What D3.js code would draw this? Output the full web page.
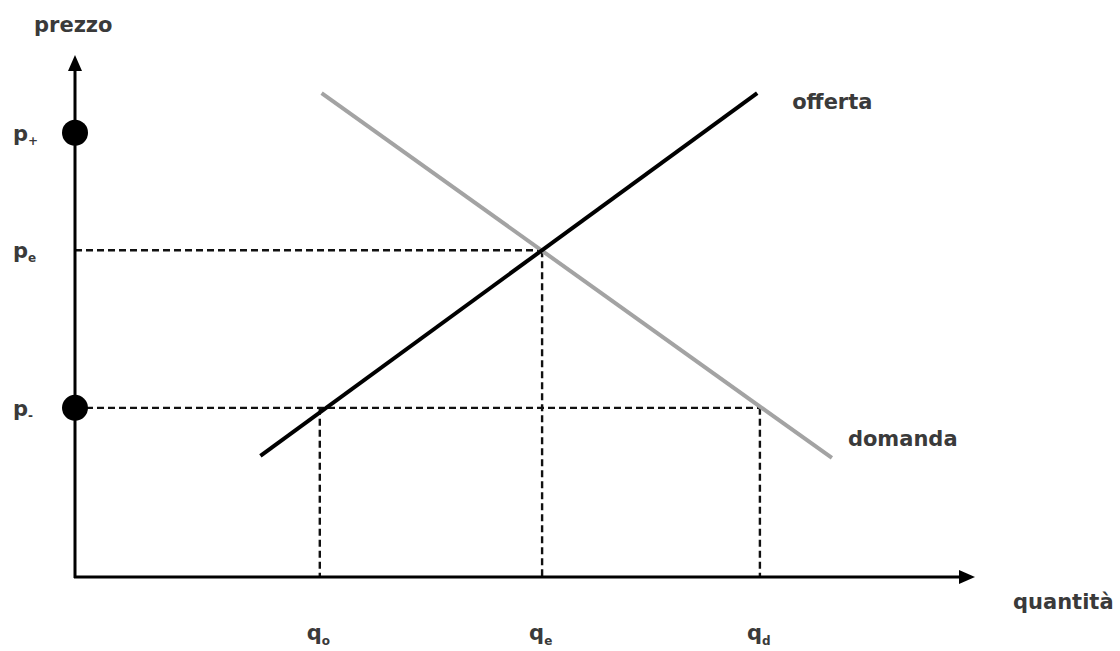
<!DOCTYPE html>
<html>
<head>
  <meta charset="utf-8">
  <title>Domanda e offerta</title>
  <style>
    body { margin: 0; background: #fff; }
    text { font-family: "DejaVu Sans", sans-serif; font-weight: bold; fill: #3a3a3a; font-size: 21px; }
    .sub { font-size: 12px; }
    .dash { stroke: #111; stroke-width: 2.4; stroke-dasharray: 7,4; fill: none; }
  </style>
</head>
<body>
  <svg id="canvas"></svg>
  <script src="https://d3js.org/d3.v7.min.js"></script>
  <script>
    // curve endpoints in chart units (x: quantità, y: prezzo)
    const supply = [[20.6, 23.2], [75.8, 92.7]];
    const demand = [[27.4, 92.7], [84.1, 22.8]];

    // price levels and quantities
    const prices = [
      { name: "p", sub: "+", value: 85.1, dot: true },
      { name: "p", sub: "e", value: 62.6, dot: false },
      { name: "p", sub: "-", value: 32.4, dot: true }
    ];
    const quantities = [
      { name: "q", sub: "o", value: 27.2, top: 32.4 },
      { name: "q", sub: "e", value: 51.9, top: 62.6 },
      { name: "q", sub: "d", value: 76.1, top: 32.4 }
    ];
    const guidesH = [
      { y: 62.6, x: 51.9 },
      { y: 32.4, x: 76.1 }
    ];

    const W = 1120, H = 651;
    const svg = d3.select("#canvas").attr("width", W).attr("height", H);

    const x = d3.scaleLinear().domain([0, 100]).range([75, 975]);
    const y = d3.scaleLinear().domain([0, 100]).range([577, 55]);

    const line = d3.line().x(d => x(d[0])).y(d => y(d[1]));

    // dashed guides
    svg.selectAll(".gh").data(guidesH).enter().append("line")
      .attr("class", "dash")
      .attr("x1", x(0)).attr("x2", d => x(d.x))
      .attr("y1", d => y(d.y)).attr("y2", d => y(d.y));

    svg.selectAll(".gv").data(quantities).enter().append("line")
      .attr("class", "dash")
      .attr("x1", d => x(d.value)).attr("x2", d => x(d.value))
      .attr("y1", d => y(d.top)).attr("y2", y(0));

    // curves
    svg.append("path").datum(demand)
      .attr("d", line).attr("stroke", "#a3a3a3").attr("stroke-width", 4).attr("fill", "none");
    svg.append("path").datum(supply)
      .attr("d", line).attr("stroke", "#000").attr("stroke-width", 4).attr("fill", "none");

    // axes
    svg.append("line").attr("x1", x(0)).attr("x2", x(0)).attr("y1", y(0) + 1).attr("y2", y(100) + 12)
      .attr("stroke", "#000").attr("stroke-width", 3);
    svg.append("line").attr("x1", x(0) - 1).attr("x2", x(100) - 12).attr("y1", y(0)).attr("y2", y(0))
      .attr("stroke", "#000").attr("stroke-width", 3);
    svg.append("path")
      .attr("d", `M${x(0)},${y(100)} l-7,16 l14,0 Z`).attr("fill", "#000");
    svg.append("path")
      .attr("d", `M${x(100)},${y(0)} l-16,-7 l0,14 Z`).attr("fill", "#000");

    // dots on price axis
    svg.selectAll(".dot").data(prices.filter(p => p.dot)).enter().append("circle")
      .attr("cx", x(0)).attr("cy", d => y(d.value)).attr("r", 13).attr("fill", "#000");

    // price labels
    const pl = svg.selectAll(".pl").data(prices).enter().append("text")
      .attr("x", 13).attr("y", d => y(d.value) + 8);
    pl.append("tspan").text(d => d.name);
    pl.append("tspan").attr("class", "sub").attr("dy", 4).text(d => d.sub);

    // quantity labels
    const ql = svg.selectAll(".ql").data(quantities).enter().append("text")
      .attr("x", d => x(d.value) - 13).attr("y", y(0) + 63);
    ql.append("tspan").text(d => d.name);
    ql.append("tspan").attr("class", "sub").attr("dy", 5).text(d => d.sub);

    // titles
    svg.append("text").attr("x", 34).attr("y", 32).text("prezzo");
    svg.append("text").attr("x", 1013).attr("y", 609).text("quantità");
    svg.append("text").attr("x", x(supply[1][0]) + 35).attr("y", y(supply[1][1]) + 16).text("offerta");
    svg.append("text").attr("x", x(demand[1][0]) + 16).attr("y", y(demand[1][1]) - 12).text("domanda");
  </script>
</body>
</html>
